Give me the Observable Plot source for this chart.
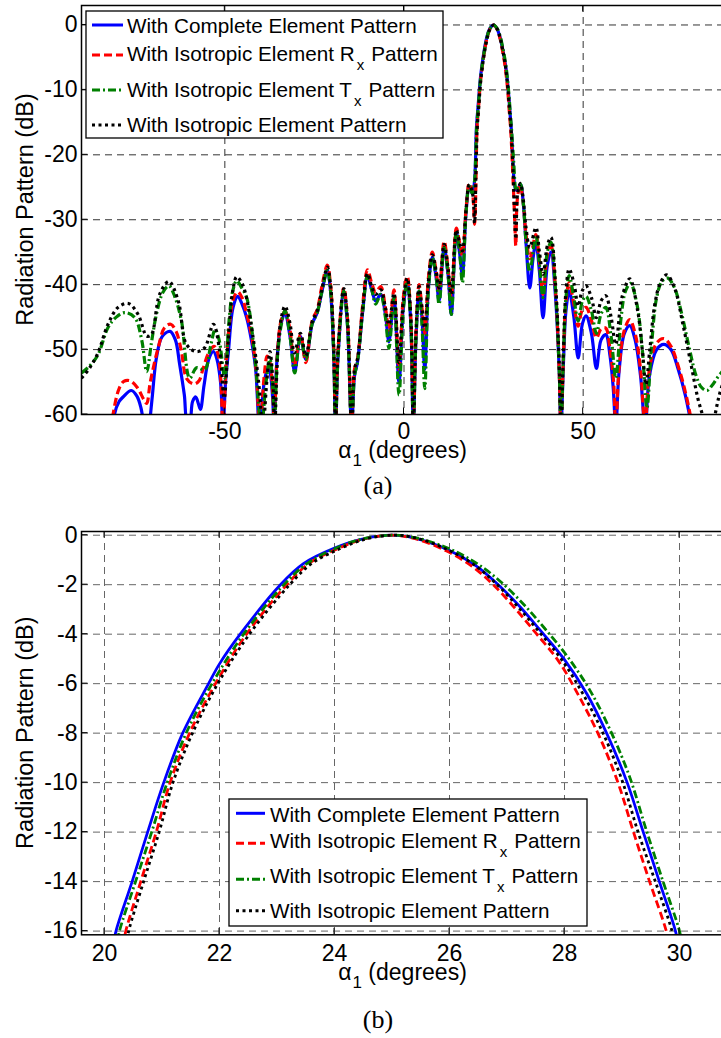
<!DOCTYPE html>
<html><head><meta charset="utf-8">
<script src="https://cdn.jsdelivr.net/npm/d3@7"></script>
<script src="https://cdn.jsdelivr.net/npm/@observablehq/plot@0.6"></script>
<style>
html,body{margin:0;padding:0;background:#fff;overflow:hidden;}
#page{position:relative;width:721px;height:1038px;overflow:hidden;background:#fff;}
#page svg{position:absolute;left:0;}
</style></head>
<body><div id="page"></div>
<script>
// ---------- tick values ----------
const xTicksA = [-50, 0, 50];
const yTicksA = [0, -10, -20, -30, -40, -50, -60];
const xTicksB = [20, 22, 24, 26, 28, 30];
const yTicksB = [0, -2, -4, -6, -8, -10, -12, -14, -16];

// ---------- legend ----------
const legendMain = ["With Complete Element Pattern", "With Isotropic Element R", "With Isotropic Element T", "With Isotropic Element Pattern"];
const legendSub  = ["", "x", "x", ""];
const legendTail = ["", "Pattern", "Pattern", ""];
const seriesColors = ["#0000ff", "#ff0000", "#008000", "#000000"];
const seriesDash = [undefined, "8,4", "8,3,2,3", "3,3.5"];

// ---------- panel (a): alpha_1 in degrees, radiation pattern in dB ----------
const a_complete = [
 [-81.5,-66],[-80.8,-60],[-79.5,-58],[-78.4,-57.3],[-76.1,-56.3],[-74.5,-57.2],[-73.4,-59],[-72.8,-61],[-71.8,-68],[-70.9,-61],[-70.2,-57],
 [-69.1,-51.3],[-67.5,-48],[-65.3,-47.2],[-63.8,-48.5],[-62.6,-52.3],[-61.3,-57],[-60.5,-61],[-59.8,-61],[-59,-58],[-58.1,-57.3],[-57.4,-58.3],
 [-56.8,-59.2],[-55.8,-55.5],[-54.5,-51.5],[-53.2,-50.3],[-52.2,-51.5],[-51.2,-55],[-50.5,-62],[-49.8,-55],[-49.0,-50.3],[-47.7,-43.5],
 [-46.4,-41.8],[-45.2,-43],[-43.9,-45.1],[-42.6,-48.5],[-41.4,-53],[-40.3,-62],[-39.0,-55],[-37.8,-52.5],[-37.2,-54],[-36.6,-58],[-36.3,-62],
 [-35.5,-52],[-34.3,-46],[-33.2,-44.6],[-31.8,-48],[-30.5,-53.4],[-28.9,-48],[-27.4,-51.5],[-25.6,-46],[-24.2,-44.3],[-23.0,-41.3],
 [-21.4,-37.8],[-20.5,-41],[-19.6,-51],[-19.1,-62],[-18.4,-51],[-16.8,-41],[-15.8,-46],[-14.6,-62],[-13.8,-54],[-13.0,-52],[-11.5,-44],
 [-10.2,-38.7],[-8.9,-41],[-7.9,-42.5],[-6.5,-41.5],[-5.2,-44.5],[-4.2,-48.8],[-2.8,-42],[-1.4,-55],[-0.2,-43.5],[0.9,-39.5],[1.9,-46],
 [2.6,-62],[3.3,-49],[4.2,-41],[5.0,-45],[5.8,-53],[6.8,-40.5],[7.9,-35.8],[9.0,-39],[9.8,-42.5],[11.2,-34.3],[12.3,-38.5],[13.2,-44.6],
 [14.6,-32],[15.5,-35],[16.3,-38.5],[17.3,-29],[18.2,-24.8],[19.1,-26],[19.7,-24],
 [20.2,-16],[20.75,-12],[21.03,-10],[21.36,-8],[21.81,-6],[22.36,-4],[23.06,-2],[23.98,-0.54],[25.0,0],[25.99,-0.61],[26.83,-1.96],
 [27.58,-3.85],[28.39,-6.42],[29.09,-10],[29.65,-14],[29.93,-16],
 [30.4,-21],[31.0,-25],[31.6,-25.5],[32.5,-24.6],[33.3,-27.5],[34.1,-34],[35.1,-40.5],[36.0,-36],[36.8,-33.5],[37.8,-38],[38.8,-45.1],
 [40,-37],[41,-35],[42.3,-42],[43.3,-53],[43.8,-62],[44.5,-52],[45.2,-44],[46.1,-41],[47.4,-45],[48.6,-51.3],[49.8,-46],[50.8,-44.8],
 [52.3,-47.5],[53.7,-52.9],[55,-48.5],[56.3,-47.7],[57.5,-51],[58.4,-56],[59.1,-62],[60,-53.5],[61.5,-47.5],[63.0,-46.3],[64.5,-48.5],
 [66,-54],[67.3,-62],[68.5,-54],[70.5,-50],[72.5,-49.2],[74.5,-50],[76.5,-53],[78.5,-57],[80,-61],[81,-64]
];
const a_rx = [
 [-82.5,-66],[-81.2,-60],[-79.5,-56],[-78.2,-54.9],[-76.5,-54.8],[-74.5,-55.8],[-72.5,-57.8],[-71.8,-58.3],[-70.8,-55],[-68.5,-49.5],
 [-66.8,-46.6],[-65.1,-46.1],[-63.6,-47.2],[-62.2,-50],[-60.6,-54.5],[-58.6,-55.3],[-57.2,-54.8],[-56.1,-53],[-54.5,-50.5],[-53.0,-49.5],
 [-52.0,-50.5],[-51.2,-54],[-50.5,-62],[-49.6,-52],[-48.7,-46],[-47.5,-42],[-46.4,-41.1],[-45.2,-42],[-43.9,-44.5],[-42.5,-48],[-41.3,-53],
 [-40.2,-62],[-39.0,-54],[-38.2,-51],[-37.4,-52],[-36.6,-57],[-36.2,-62],[-35.5,-52],[-34.3,-45.5],
 [-33.2,-44.1],[-31.8,-47],[-30.6,-52.5],[-28.9,-47.6],[-27.4,-52],[-25.6,-45.5],[-24.2,-43.8],[-23.0,-40.5],[-21.4,-37],[-20.5,-40],
 [-19.6,-50],[-19.1,-62],[-18.4,-50],[-16.8,-40.5],[-15.8,-45],[-14.6,-62],[-13.8,-53],[-13.0,-51.5],[-11.5,-43],[-10.2,-37.7],[-8.9,-40],
 [-7.9,-41.2],[-6.5,-40.3],[-5.2,-43.5],[-4.2,-47],[-2.8,-40.8],[-1.4,-53],[-0.2,-42],[0.9,-38.7],[1.9,-45],[2.6,-62],[3.3,-48],[4.2,-40],
 [5.0,-43.5],[5.8,-47.5],[6.8,-39],[7.9,-35],[9.0,-38],[9.8,-41],[11.2,-33.3],[12.3,-37.5],[13.2,-42],[14.6,-31.3],[15.5,-33.5],[16.3,-35.5],
 [17.3,-28.5],[18.2,-24.4],[19.1,-25.8],[19.7,-30.7],[20.15,-22],
 [20.37,-16],[20.9,-12],[21.14,-10],[21.48,-8],[21.93,-6],[22.47,-4],[23.17,-2],[24.05,-0.55],[25.0,0],[25.95,-0.64],[26.77,-2.02],
 [27.5,-3.95],[28.25,-6.5],[28.93,-10],[29.48,-14],[29.77,-16],
 [30.3,-22],[30.9,-30],[31.2,-34],[31.6,-27],[32.4,-24.6],[33.2,-27],[34.0,-32],[35.1,-36],[36.8,-32.3],[37.8,-36.5],[38.8,-41.5],
 [40,-35.5],[41,-34],[42.3,-41],[43.3,-53],[43.8,-62],[44.5,-51],[45.2,-42.5],[46.1,-39.7],[47.4,-43],[48.6,-46.4],[49.7,-44],[50.8,-43.5],
 [52.3,-45.5],[53.7,-48.2],[55,-46.8],[56.3,-46.7],[57.5,-50],[58.5,-55],[59.1,-62],[60,-53],[61.5,-47],[63.0,-45.4],[64.5,-47.5],
 [66,-53],[67.3,-62],[68.5,-53],[70.5,-49],[72.5,-48.3],[74.5,-49.5],[76.5,-52.5],[78.5,-56.5],[80.2,-61],[81,-64]
];
const a_tx = [
 [-90,-53.6],[-87.7,-52.5],[-85.4,-50.8],[-82.6,-46.6],[-80.3,-45],[-77.9,-44.3],[-75.1,-45.1],[-73.2,-48.5],[-71.8,-53.4],[-70.5,-49],
 [-69.1,-44.6],[-67.3,-41.2],[-65.6,-40.2],[-64,-41.8],[-62.1,-45.6],[-59.8,-54.4],[-57.9,-52.8],[-55.6,-53.1],[-54.0,-49.5],[-52.7,-46.9],
 [-51.6,-48.5],[-50.0,-54.4],[-48.9,-46],[-47.8,-41],[-46.7,-39.4],[-45.3,-40.5],[-43.9,-42],[-41.6,-51.3],[-39.8,-62],[-38.5,-55],
 [-37.4,-51.5],[-36.6,-56],[-36.2,-62],[-35.3,-51],[-34.2,-46],
 [-33.2,-44],[-31.8,-48],[-30.5,-53.6],[-28.9,-48],[-27.4,-51.5],[-25.6,-46],[-24.2,-44.3],[-23.0,-41.3],[-21.4,-37.8],[-20.5,-41],
 [-19.6,-51],[-19.1,-62],[-18.4,-51],[-16.8,-41],[-15.8,-46],[-14.6,-62],[-13.8,-54],[-13.0,-52],[-11.5,-44],[-10.2,-38.7],[-8.9,-41],
 [-7.9,-43],[-6.5,-41.5],[-5.2,-45],[-4.2,-49.8],[-2.8,-42],[-1.4,-57],[-0.2,-44],[0.9,-39.5],[1.9,-46],[2.6,-62],[3.3,-49],[4.2,-41],
 [5.0,-46],[5.8,-56],[6.8,-41],[7.9,-35.8],[9.0,-39],[9.8,-43],[11.2,-34.3],[12.3,-38.5],[13.2,-44.6],[14.6,-32],[15.5,-35],[16.3,-39.7],
 [17.3,-29],[18.2,-24.8],[19.1,-26],[19.7,-24],
 [20.26,-16],[20.82,-12],[21.09,-10],[21.42,-8],[21.87,-6],[22.42,-4],[23.12,-2],[24.02,-0.53],[25.05,0],[26.03,-0.58],[26.9,-1.9],
 [27.65,-3.75],[28.45,-6.3],[29.13,-9.75],[29.7,-13.9],[30.0,-16],
 [30.6,-21],[31.3,-25.5],[31.8,-25],[32.5,-24.5],[33.3,-27.5],[34.0,-33],[35.1,-38],[36.8,-32.5],[37.8,-37],[38.8,-42],[40,-35],[41,-33.5],
 [42.3,-41],[43.3,-53],[43.8,-62],[44.5,-51],[45.2,-42],[46.1,-38.6],[47.4,-42],[48.6,-45.6],[49.8,-42.5],[50.8,-41.8],[52.3,-44],
 [53.7,-47.5],[55,-44.5],[56.3,-43.5],[57.8,-48],[59.1,-54.4],[60.6,-45],[61.8,-41],[63.2,-39.8],[65,-43],[66.5,-50],[67.8,-59],[69,-50],
 [70.5,-42],[72,-39.5],[73.6,-39],[75.5,-40.5],[77.5,-44.5],[79.5,-49.5],[81.5,-54],[83,-55.8],[84.6,-56.3],[86,-55.5],[87.5,-54.3],[90,-52.6]
];
const a_iso = [
 [-90,-54.4],[-87.7,-52.8],[-85.4,-50.5],[-82.6,-46.1],[-79.8,-43.5],[-76.9,-42.9],[-74.2,-44.6],[-71.8,-47.9],[-70.5,-47.7],[-68.2,-41.5],
 [-65.6,-39.5],[-63.0,-42.5],[-60.7,-49.2],[-57.9,-50.3],[-55.6,-49.7],[-53.2,-46.1],[-51.4,-50.3],[-50.2,-57.5],[-49.0,-48.2],[-47.8,-41],
 [-46.7,-38.8],[-45.5,-39.5],[-44.4,-41],[-42.1,-48.2],[-40.5,-55.4],[-39.4,-62],[-38.3,-55],[-37.4,-50.3],[-36.6,-55],[-36.1,-62],
 [-35.2,-50],[-34.2,-45],
 [-33.2,-43.3],[-31.8,-46],[-30.6,-50.5],[-28.9,-47.5],[-27.4,-51],[-25.6,-45.7],[-24.2,-44],[-23.0,-41],[-21.4,-37.3],[-20.5,-40],
 [-19.6,-50],[-19.1,-62],[-18.4,-50],[-16.8,-40.6],[-15.8,-45],[-14.6,-62],[-13.8,-53],[-13.0,-51.5],[-11.5,-43.5],[-10.2,-38.3],
 [-8.9,-40.5],[-7.9,-41.5],[-6.5,-40.8],[-5.2,-43.5],[-4.2,-46.2],[-2.8,-41.3],[-1.4,-52],[-0.2,-42.5],[0.9,-39],[1.9,-45],[2.6,-62],
 [3.3,-48],[4.2,-40.3],[5.0,-43.5],[5.8,-46.7],[6.8,-39.5],[7.9,-35.4],[9.0,-38],[9.8,-40.5],[11.2,-33.8],[12.3,-37.5],[13.2,-41.5],
 [14.6,-31.6],[15.5,-33.5],[16.3,-34.8],[17.3,-28.5],[18.2,-24.6],[19.1,-25.8],[19.7,-30.5],[20.1,-22],
 [20.42,-16],[20.95,-12],[21.19,-10],[21.53,-8],[21.97,-6],[22.52,-4],[23.22,-2],[24.08,-0.56],[25.05,0],[26.0,-0.62],[26.82,-1.98],
 [27.55,-3.88],[28.33,-6.45],[29.0,-9.9],[29.58,-14],[29.87,-16],
 [30.4,-22],[31.2,-33],[31.7,-26],[32.5,-24.4],[33.3,-27],[34.0,-31],[35.1,-34.3],[36.8,-31.2],[37.8,-35],[38.8,-38.4],[40.0,-34],
 [41,-32.7],[42.3,-40],[43.3,-52],[43.8,-62],[44.5,-50],[45.2,-41],[46.1,-37.6],[47.5,-40],[48.6,-43.3],[49.7,-41],[50.8,-40.2],
 [52.3,-42],[53.7,-45.1],[55,-42.5],[56.3,-41.7],[57.8,-45],[59.1,-49.2],[60.8,-42],[63.0,-39.1],[65.2,-44],[66.5,-50],[67.5,-55.4],
 [68.6,-50],[70,-43],[71.5,-39.8],[73.3,-38.5],[75.5,-40.5],[77.8,-46],[80,-52],[82,-57.5],[83.7,-61],[85,-66],[86.5,-61],[88,-57],[90,-53.5]
];

// ---------- panel (b): zoom on the main lobe ----------
const b_complete = [
 [20.15,-16.6],[20.2,-16],[20.48,-14],[20.75,-12],[21.03,-10],[21.36,-8],[21.81,-6],[22.0,-5.2],[22.36,-4],[23.06,-2],[23.46,-1.15],
 [23.98,-0.54],[24.5,-0.15],[25.0,0],[25.41,-0.13],[25.99,-0.61],[26.45,-1.22],[26.83,-1.96],[27.23,-2.9],[27.58,-3.85],[27.99,-5.0],
 [28.39,-6.42],[28.74,-8.04],[29.09,-10],[29.37,-12],[29.65,-14],[29.93,-16],[29.98,-16.6]
];
const b_rx = [
 [20.32,-16.6],[20.37,-16],[20.63,-14],[20.9,-12],[21.14,-10],[21.48,-8],[21.93,-6],[22.47,-4],[23.17,-2],[23.55,-1.15],[24.05,-0.55],
 [24.5,-0.16],[25.0,0],[25.4,-0.14],[25.95,-0.64],[26.4,-1.27],[26.77,-2.02],[27.15,-2.98],[27.5,-3.95],[27.9,-5.1],[28.25,-6.5],
 [28.6,-8.1],[28.93,-10],[29.2,-12],[29.48,-14],[29.77,-16],[29.82,-16.6]
];
const b_tx = [
 [20.21,-16.6],[20.26,-16],[20.54,-14],[20.82,-12],[21.09,-10],[21.42,-8],[21.87,-6],[22.42,-4],[23.12,-2],[23.52,-1.15],[24.02,-0.53],
 [24.5,-0.14],[25.05,0],[25.45,-0.12],[26.03,-0.58],[26.5,-1.18],[26.9,-1.9],[27.3,-2.82],[27.65,-3.75],[28.05,-4.9],[28.45,-6.3],
 [28.8,-7.9],[29.13,-9.75],[29.42,-11.9],[29.7,-13.9],[30.0,-16],[30.05,-16.6]
];
const b_iso = [
 [20.37,-16.6],[20.42,-16],[20.68,-14],[20.95,-12],[21.19,-10],[21.53,-8],[21.97,-6],[22.52,-4],[23.22,-2],[23.6,-1.15],[24.08,-0.56],
 [24.55,-0.15],[25.05,0],[25.45,-0.13],[26.0,-0.62],[26.45,-1.23],[26.82,-1.98],[27.2,-2.92],[27.55,-3.88],[27.95,-5.03],[28.33,-6.45],
 [28.68,-8.05],[29.0,-9.9],[29.28,-12],[29.58,-14],[29.87,-16],[29.92,-16.6]
];

const FONT = "Liberation Sans, Arial, sans-serif";

function panel(o) {
  const marks = [
    Plot.gridX(o.xt, {stroke: o.gridColor, strokeOpacity: 1, strokeWidth: 1, strokeDasharray: "7,5"}),
    Plot.gridY(o.yt, {stroke: o.gridColor, strokeOpacity: 1, strokeWidth: 1, strokeDasharray: "7,5"}),
    Plot.axisX(o.xt, {tickSize: 0, tickPadding: o.xPad, tickFormat: d => String(d), fontSize: 23, label: null}),
    Plot.axisY(o.yt, {tickSize: 0, tickPadding: 4, tickFormat: d => String(d), fontSize: 23, label: null})
  ];
  o.series.forEach((s, i) => marks.push(Plot.line(s, {
    x: d => d[0], y: d => d[1], stroke: seriesColors[i], strokeWidth: o.lw,
    strokeDasharray: seriesDash[i], strokeLinecap: i === 0 ? "round" : "butt",
    curve: "catmull-rom", clip: true
  })));
  marks.push(Plot.frame({stroke: "black", strokeWidth: 1.5}));
  const p = Plot.plot({
    width: o.width, height: o.height,
    marginLeft: 81, marginRight: 0, marginTop: o.mt, marginBottom: o.mb,
    style: {fontFamily: FONT, fontSize: "23px", background: "white", color: "black", maxWidth: "none"},
    x: {domain: o.xd, label: null},
    y: {domain: o.yd, label: null},
    marks
  });
  p.style.maxWidth = "none";
  p.style.top = o.top + "px";
  const svg = d3.select(p);
  const sx = p.scale("x"), sy = p.scale("y");
  const bottom = o.height - o.mb, topY = o.mt;
  const g = svg.append("g").attr("stroke", "black").attr("stroke-width", 1);
  o.xt.forEach(v => {
    const X = sx.apply(v);
    g.append("line").attr("x1", X).attr("x2", X).attr("y1", bottom).attr("y2", bottom - 6.5);
    g.append("line").attr("x1", X).attr("x2", X).attr("y1", topY).attr("y2", topY + 6.5);
  });
  o.yt.forEach(v => {
    const Y = sy.apply(v);
    g.append("line").attr("x1", 81).attr("x2", 87.5).attr("y1", Y).attr("y2", Y);
  });
  // x label
  const xl = svg.append("text").attr("x", 402.5).attr("y", o.xLabelY).attr("text-anchor", "middle")
    .attr("font-family", FONT).attr("font-size", 23).attr("fill", "black");
  xl.append("tspan").text("α");
  xl.append("tspan").attr("font-size", 17).attr("dy", 8).attr("dx", 1).text("1");
  xl.append("tspan").attr("dy", -8).text(" (degrees)");
  // y label
  svg.append("text").attr("transform", `translate(33,${(topY + bottom) / 2}) rotate(-90)`)
    .attr("text-anchor", "middle").attr("font-family", FONT).attr("font-size", 23.5).attr("fill", "black")
    .text("Radiation Pattern (dB)");
  // legend
  const L = o.legend;
  const lg = svg.append("g").attr("text-anchor", "start");
  lg.append("rect").attr("x", L.x).attr("y", L.y).attr("width", L.w).attr("height", L.h)
    .attr("fill", "white").attr("stroke", "black").attr("stroke-width", 1.3);
  for (let i = 0; i < 4; i++) {
    const ln = lg.append("line").attr("x1", L.sx1).attr("x2", L.sx2).attr("y1", L.sy[i]).attr("y2", L.sy[i])
      .attr("stroke", seriesColors[i]).attr("stroke-width", 3)
      .attr("stroke-linecap", "butt");
    if (seriesDash[i]) ln.attr("stroke-dasharray", seriesDash[i]);
    const t = lg.append("text").attr("x", L.tx).attr("y", L.ty[i]).attr("font-family", FONT)
      .attr("text-anchor", "start").attr("font-size", 20.7).attr("fill", "black");
    t.append("tspan").text(legendMain[i]);
    if (legendSub[i]) {
      t.append("tspan").attr("font-size", 15).attr("dy", 9).attr("dx", 2).text(legendSub[i]);
      t.append("tspan").attr("dy", -9).attr("dx", 7).text(legendTail[i]);
    }
  }
  // caption
  svg.append("text").attr("x", 378).attr("y", o.capY).attr("text-anchor", "middle")
    .attr("font-family", "Liberation Serif, Times New Roman, serif").attr("font-size", 26).attr("fill", "black")
    .text(o.caption);
  return p;
}

const page = document.getElementById("page");
page.appendChild(panel({
  series: [a_complete, a_rx, a_tx, a_iso],
  xd: [-90, 90], yd: [-60, 3], xt: xTicksA, yt: yTicksA,
  width: 726, height: 520, mt: 5, mb: 106, top: 0, xPad: 8,
  gridColor: "#333", lw: 3.2, xLabelY: 458, capY: 494, caption: "(a)",
  legend: {x: 86, y: 11, w: 357, h: 127, sx1: 92, sx2: 123, sy: [25, 55, 90, 125], tx: 127, ty: [33.3, 60.7, 96.7, 131.7]}
}));
page.appendChild(panel({
  series: [b_complete, b_rx, b_tx, b_iso],
  xd: [19.6, 30.8], yd: [-16.15, 0.15], xt: xTicksB, yt: yTicksB,
  width: 725, height: 518, mt: 11, mb: 103.7, top: 520, xPad: 10,
  gridColor: "#666", lw: 2.8, xLabelY: 460, capY: 508, caption: "(b)",
  legend: {x: 229, y: 279, w: 358, h: 127, sx1: 236, sx2: 265, sy: [293.3, 323.3, 359.3, 390.7], tx: 270, ty: [301.7, 328.3, 363.3, 397.7]}
}));
</script>
</body></html>
